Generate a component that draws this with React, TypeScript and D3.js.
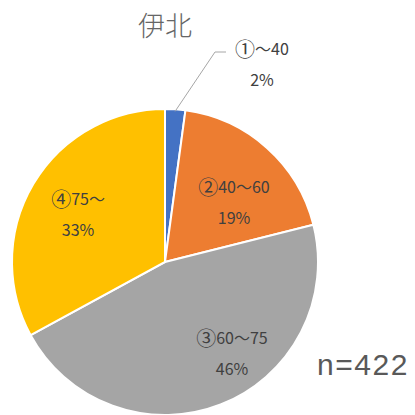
import React from 'react';
import * as d3 from 'd3';

const categories = ['①～40', '②40～60', '③60～75', '④75～'];
const counts = [9, 80, 194, 139];
const colors = ['#4472C4', '#ED7D31', '#A5A5A5', '#FFC000'];
const title = '伊北';
const nLabel = 'n=422';

const W = 415, H = 415;
const cx = 165, cy = 262, R = 153;

export default function App() {
  const total = d3.sum(counts);
  const pie = d3.pie<number>().sort(null).value(d => d);
  const arcs = pie(counts);
  const arc = d3.arc<d3.PieArcDatum<number>>().innerRadius(0).outerRadius(R);
  const edgeArc = d3.arc<d3.PieArcDatum<number>>().innerRadius(R - 2).outerRadius(R - 2);
  const font = '"Noto Sans CJK JP", "Noto Sans", sans-serif';
  // label anchor points (relative to pie centre)
  const labelPos = [[262 - cx, 48 - cy], [234 - cx, 186 - cy], [232 - cx, 337 - cy], [78 - cx, 198 - cy]];

  return (
    <svg width={W} height={H} style={{ position: 'absolute', left: 0, top: 0 }} fontFamily={font}>
      <rect width={W} height={H} fill="#fff" />
      <text x={165} y={24} textAnchor="middle" dominantBaseline="central" fontSize={27} fill="#666" fontWeight={300}>{title}</text>
      <g transform={`translate(${cx},${cy})`}>
        {arcs.map((a, i) => (
          <path key={i} d={arc(a) || ''} fill={colors[i]} stroke="#fff" strokeWidth={2} />
        ))}
        {arcs.map((a, i) => {
          const pct = Math.round((a.data / total) * 100) + '%';
          const [lx, ly] = labelPos[i];
          let leader = null;
          if (i === 0) {
            const [ex, ey] = edgeArc.centroid(a);
            const bx = 215 - cx, by = 52 - cy;
            leader = <polyline points={`${ex},${ey} ${bx},${by} ${bx + 11},${by}`} fill="none" stroke="#A6A6A6" strokeWidth={1} />;
          }
          const cat = categories[i];
          return (
            <g key={i}>
              {leader}
              <text x={lx} y={ly} textAnchor="middle" dominantBaseline="central" fontSize={16} fill="#404040">
                <tspan fontSize={20}>{cat.slice(0, 1)}</tspan>
                <tspan>{cat.slice(1)}</tspan>
              </text>
              <text x={lx} y={ly + 31} textAnchor="middle" dominantBaseline="central" fontSize={16} fill="#404040">{pct}</text>
            </g>
          );
        })}
      </g>
      <text x={363} y={364} textAnchor="middle" dominantBaseline="central" fontSize={30} letterSpacing={1.5} fill="#595959" fontFamily='"Liberation Sans", Arial, sans-serif'>{nLabel}</text>
    </svg>
  );
}
